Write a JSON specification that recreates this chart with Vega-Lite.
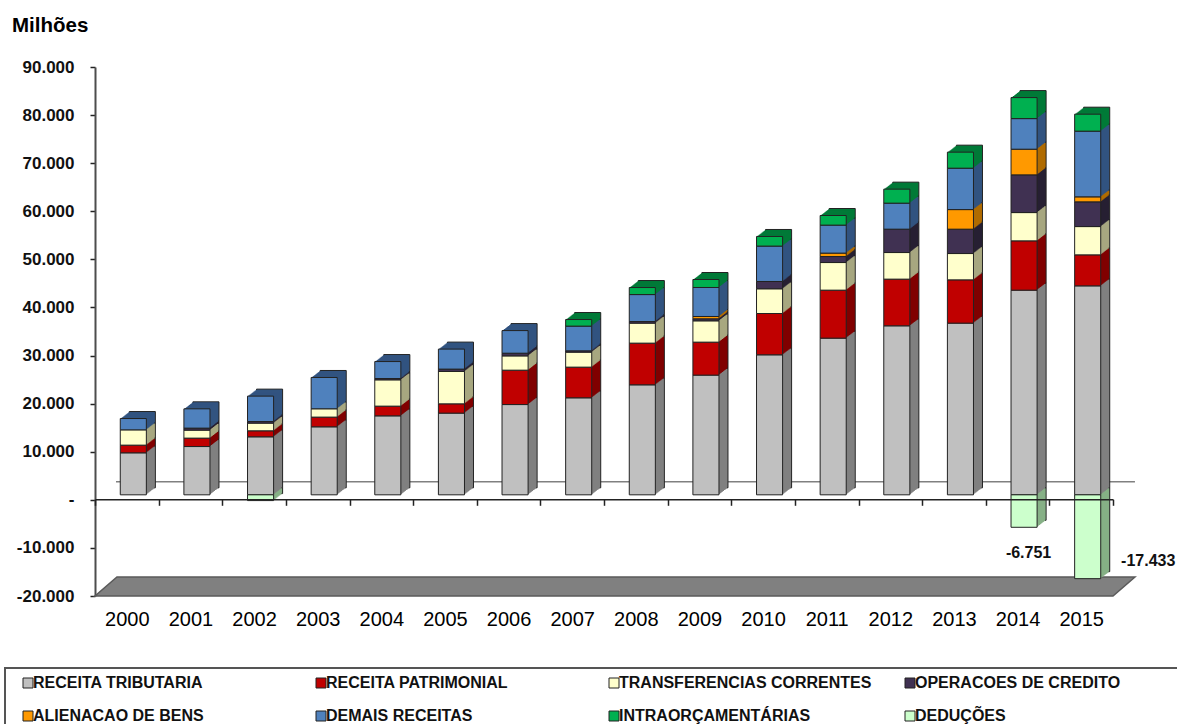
{"$schema":"https://vega.github.io/schema/vega-lite/v6.json","width":1018,"height":529,"autosize":{"type":"none"},"padding":{"left":95,"top":67,"right":64,"bottom":128},"background":"white",
"config":{"view":{"stroke":null},"font":"Liberation Sans","legend":{"strokeWidth":2}},
"title":{"text":"Milhões","anchor":"start","frame":"group","dx":-83,"offset":6,"baseline":"alphabetic","font":"Liberation Sans","fontSize":20.5,"fontWeight":"bold","color":"#000"},
"resolve":{"scale":{"x":"independent"}},
"layer":[
{"data":{"values":[{"pos":0,"base":-20000,"topo":-20000},{"pos":0.345,"base":-20000,"topo":-16050},{"pos":16,"base":-20000,"topo":-16050},{"pos":16.345,"base":-16050,"topo":-16050}]},
"mark":{"type":"area","color":"#808080","stroke":"#5a5a5a","strokeWidth":1.5},
"encoding":{"x":{"field":"pos","type":"quantitative","scale":{"domain":[0,16],"nice":false,"zero":false},"axis":null},
"y":{"field":"base","type":"quantitative","stack":null,"scale":{"domain":[-20000,90000],"nice":false,"zero":false}},
"y2":{"field":"topo"}}},
{"data":{"values":[{"pos":0.33,"base":3740},{"pos":16.345,"base":3740}]},
"mark":{"type":"line","color":"#808080","strokeWidth":1.5},
"encoding":{"x":{"field":"pos","type":"quantitative","scale":{"domain":[0,16],"nice":false,"zero":false},"axis":null},"y":{"field":"base","type":"quantitative"}}},
{"data":{"values":[
{"ano":"2000","serie":"RECEITA TRIBUTARIA","valor":8730,"ordem":1},{"ano":"2000","serie":"RECEITA PATRIMONIAL","valor":1600,"ordem":2},{"ano":"2000","serie":"TRANSFERENCIAS CORRENTES","valor":3180,"ordem":3},{"ano":"2000","serie":"DEMAIS RECEITAS","valor":2350,"ordem":6},
{"ano":"2001","serie":"RECEITA TRIBUTARIA","valor":10040,"ordem":1},{"ano":"2001","serie":"RECEITA PATRIMONIAL","valor":1750,"ordem":2},{"ano":"2001","serie":"TRANSFERENCIAS CORRENTES","valor":1660,"ordem":3},{"ano":"2001","serie":"OPERACOES DE CREDITO","valor":420,"ordem":4},{"ano":"2001","serie":"DEMAIS RECEITAS","valor":4010,"ordem":6},
{"ano":"2002","serie":"RECEITA TRIBUTARIA","valor":12060,"ordem":1},{"ano":"2002","serie":"RECEITA PATRIMONIAL","valor":1250,"ordem":2},{"ano":"2002","serie":"TRANSFERENCIAS CORRENTES","valor":1600,"ordem":3},{"ano":"2002","serie":"OPERACOES DE CREDITO","valor":330,"ordem":4},{"ano":"2002","serie":"DEMAIS RECEITAS","valor":5280,"ordem":6},{"ano":"2002","serie":"DEDUÇÕES","valor":-1200,"ordem":8},
{"ano":"2003","serie":"RECEITA TRIBUTARIA","valor":14140,"ordem":1},{"ano":"2003","serie":"RECEITA PATRIMONIAL","valor":2020,"ordem":2},{"ano":"2003","serie":"TRANSFERENCIAS CORRENTES","valor":1730,"ordem":3},{"ano":"2003","serie":"DEMAIS RECEITAS","valor":6510,"ordem":6},
{"ano":"2004","serie":"RECEITA TRIBUTARIA","valor":16420,"ordem":1},{"ano":"2004","serie":"RECEITA PATRIMONIAL","valor":2020,"ordem":2},{"ano":"2004","serie":"TRANSFERENCIAS CORRENTES","valor":5470,"ordem":3},{"ano":"2004","serie":"OPERACOES DE CREDITO","valor":270,"ordem":4},{"ano":"2004","serie":"DEMAIS RECEITAS","valor":3530,"ordem":6},
{"ano":"2005","serie":"RECEITA TRIBUTARIA","valor":16990,"ordem":1},{"ano":"2005","serie":"RECEITA PATRIMONIAL","valor":1930,"ordem":2},{"ano":"2005","serie":"TRANSFERENCIAS CORRENTES","valor":6720,"ordem":3},{"ano":"2005","serie":"OPERACOES DE CREDITO","valor":500,"ordem":4},{"ano":"2005","serie":"DEMAIS RECEITAS","valor":4160,"ordem":6},
{"ano":"2006","serie":"RECEITA TRIBUTARIA","valor":18770,"ordem":1},{"ano":"2006","serie":"RECEITA PATRIMONIAL","valor":7150,"ordem":2},{"ano":"2006","serie":"TRANSFERENCIAS CORRENTES","valor":2970,"ordem":3},{"ano":"2006","serie":"OPERACOES DE CREDITO","valor":560,"ordem":4},{"ano":"2006","serie":"DEMAIS RECEITAS","valor":4700,"ordem":6},
{"ano":"2007","serie":"RECEITA TRIBUTARIA","valor":20170,"ordem":1},{"ano":"2007","serie":"RECEITA PATRIMONIAL","valor":6380,"ordem":2},{"ano":"2007","serie":"TRANSFERENCIAS CORRENTES","valor":3120,"ordem":3},{"ano":"2007","serie":"OPERACOES DE CREDITO","valor":270,"ordem":4},{"ano":"2007","serie":"DEMAIS RECEITAS","valor":5140,"ordem":6},{"ano":"2007","serie":"INTRAORÇAMENTÁRIAS","valor":1370,"ordem":7},
{"ano":"2008","serie":"RECEITA TRIBUTARIA","valor":22870,"ordem":1},{"ano":"2008","serie":"RECEITA PATRIMONIAL","valor":8670,"ordem":2},{"ano":"2008","serie":"TRANSFERENCIAS CORRENTES","valor":4160,"ordem":3},{"ano":"2008","serie":"OPERACOES DE CREDITO","valor":330,"ordem":4},{"ano":"2008","serie":"DEMAIS RECEITAS","valor":5610,"ordem":6},{"ano":"2008","serie":"INTRAORÇAMENTÁRIAS","valor":1460,"ordem":7},
{"ano":"2009","serie":"RECEITA TRIBUTARIA","valor":24890,"ordem":1},{"ano":"2009","serie":"RECEITA PATRIMONIAL","valor":6860,"ordem":2},{"ano":"2009","serie":"TRANSFERENCIAS CORRENTES","valor":4430,"ordem":3},{"ano":"2009","serie":"OPERACOES DE CREDITO","valor":420,"ordem":4},{"ano":"2009","serie":"ALIENACAO DE BENS","valor":480,"ordem":5},{"ano":"2009","serie":"DEMAIS RECEITAS","valor":6030,"ordem":6},{"ano":"2009","serie":"INTRAORÇAMENTÁRIAS","valor":1660,"ordem":7},
{"ano":"2010","serie":"RECEITA TRIBUTARIA","valor":29110,"ordem":1},{"ano":"2010","serie":"RECEITA PATRIMONIAL","valor":8590,"ordem":2},{"ano":"2010","serie":"TRANSFERENCIAS CORRENTES","valor":5140,"ordem":3},{"ano":"2010","serie":"OPERACOES DE CREDITO","valor":1520,"ordem":4},{"ano":"2010","serie":"DEMAIS RECEITAS","valor":7360,"ordem":6},{"ano":"2010","serie":"INTRAORÇAMENTÁRIAS","valor":2000,"ordem":7},
{"ano":"2011","serie":"RECEITA TRIBUTARIA","valor":32580,"ordem":1},{"ano":"2011","serie":"RECEITA PATRIMONIAL","valor":9980,"ordem":2},{"ano":"2011","serie":"TRANSFERENCIAS CORRENTES","valor":5740,"ordem":3},{"ano":"2011","serie":"OPERACOES DE CREDITO","valor":1250,"ordem":4},{"ano":"2011","serie":"ALIENACAO DE BENS","valor":710,"ordem":5},{"ano":"2011","serie":"DEMAIS RECEITAS","valor":5820,"ordem":6},{"ano":"2011","serie":"INTRAORÇAMENTÁRIAS","valor":2000,"ordem":7},
{"ano":"2012","serie":"RECEITA TRIBUTARIA","valor":35140,"ordem":1},{"ano":"2012","serie":"RECEITA PATRIMONIAL","valor":9710,"ordem":2},{"ano":"2012","serie":"TRANSFERENCIAS CORRENTES","valor":5530,"ordem":3},{"ano":"2012","serie":"OPERACOES DE CREDITO","valor":4860,"ordem":4},{"ano":"2012","serie":"DEMAIS RECEITAS","valor":5410,"ordem":6},{"ano":"2012","serie":"INTRAORÇAMENTÁRIAS","valor":2910,"ordem":7},
{"ano":"2013","serie":"RECEITA TRIBUTARIA","valor":35700,"ordem":1},{"ano":"2013","serie":"RECEITA PATRIMONIAL","valor":9000,"ordem":2},{"ano":"2013","serie":"TRANSFERENCIAS CORRENTES","valor":5470,"ordem":3},{"ano":"2013","serie":"OPERACOES DE CREDITO","valor":5070,"ordem":4},{"ano":"2013","serie":"ALIENACAO DE BENS","valor":4070,"ordem":5},{"ano":"2013","serie":"DEMAIS RECEITAS","valor":8610,"ordem":6},{"ano":"2013","serie":"INTRAORÇAMENTÁRIAS","valor":3330,"ordem":7},
{"ano":"2014","serie":"RECEITA TRIBUTARIA","valor":42560,"ordem":1},{"ano":"2014","serie":"RECEITA PATRIMONIAL","valor":10250,"ordem":2},{"ano":"2014","serie":"TRANSFERENCIAS CORRENTES","valor":5880,"ordem":3},{"ano":"2014","serie":"OPERACOES DE CREDITO","valor":7840,"ordem":4},{"ano":"2014","serie":"ALIENACAO DE BENS","valor":5340,"ordem":5},{"ano":"2014","serie":"DEMAIS RECEITAS","valor":6360,"ordem":6},{"ano":"2014","serie":"INTRAORÇAMENTÁRIAS","valor":4370,"ordem":7},{"ano":"2014","serie":"DEDUÇÕES","valor":-6751,"ordem":8},
{"ano":"2015","serie":"RECEITA TRIBUTARIA","valor":43450,"ordem":1},{"ano":"2015","serie":"RECEITA PATRIMONIAL","valor":6450,"ordem":2},{"ano":"2015","serie":"TRANSFERENCIAS CORRENTES","valor":5880,"ordem":3},{"ano":"2015","serie":"OPERACOES DE CREDITO","valor":5140,"ordem":4},{"ano":"2015","serie":"ALIENACAO DE BENS","valor":1040,"ordem":5},{"ano":"2015","serie":"DEMAIS RECEITAS","valor":13660,"ordem":6},{"ano":"2015","serie":"INTRAORÇAMENTÁRIAS","valor":3530,"ordem":7},{"ano":"2015","serie":"DEDUÇÕES","valor":-17433,"ordem":8}
]},
"encoding":{"x":{"field":"ano","type":"nominal","scale":{"paddingInner":0,"paddingOuter":0},"axis":{"title":null,"offset":-96.7,"tickBand":"extent","domainColor":"#222","domainWidth":1.5,"tickColor":"#222","tickSize":6,"tickWidth":1.5,"labelPadding":104,"labelAngle":0,"labelFont":"Liberation Sans","labelFontSize":20,"labelColor":"#000","zindex":1}},
"y":{"field":"valor","type":"quantitative","stack":"zero","axis":{"title":null,"values":[-20000,-10000,0,10000,20000,30000,40000,50000,60000,70000,80000,90000],"grid":false,"domainColor":"#4d4d4d","domainWidth":2,"tickColor":"#222","tickSize":5,"tickWidth":1.5,"labelPadding":16,"labelFont":"Liberation Sans","labelFontSize":17,"labelFontWeight":"bold","labelColor":"#111","labelExpr":"datum.value==0?'-\u00a0\u00a0':replace(replace(format(datum.value,','),',','.'),'\u2212','-')"}},
"order":{"field":"ordem"}},
"resolve":{"scale":{"color":"independent"}},
"layer":[
{"encoding":{"color":{"field":"serie","type":"nominal","legend":null,"scale":{"domain":["RECEITA TRIBUTARIA","RECEITA PATRIMONIAL","TRANSFERENCIAS CORRENTES","OPERACOES DE CREDITO","ALIENACAO DE BENS","DEMAIS RECEITAS","INTRAORÇAMENTÁRIAS","DEDUÇÕES"],"range":["#808080","#800000","#A8A880","#272033","#B06B00","#325480","#007A38","#86B086"]}}},
"layer":[
{"mark":{"type":"bar","width":{"band":0.41},"stroke":"#222","strokeWidth":1,"xOffset":15.5,"x2Offset":15.5,"yOffset":-12,"y2Offset":-12}},
{"mark":{"type":"bar","width":{"band":0.41},"xOffset":14.5,"x2Offset":14.5,"yOffset":-11.2,"y2Offset":-11.2}},
{"mark":{"type":"bar","width":{"band":0.41},"xOffset":13.5,"x2Offset":13.5,"yOffset":-10.4,"y2Offset":-10.4}},
{"mark":{"type":"bar","width":{"band":0.41},"xOffset":12.5,"x2Offset":12.5,"yOffset":-9.7,"y2Offset":-9.7}},
{"mark":{"type":"bar","width":{"band":0.41},"xOffset":11.5,"x2Offset":11.5,"yOffset":-8.9,"y2Offset":-8.9}},
{"mark":{"type":"bar","width":{"band":0.41},"xOffset":10.5,"x2Offset":10.5,"yOffset":-8.1,"y2Offset":-8.1}},
{"mark":{"type":"bar","width":{"band":0.41},"xOffset":9.5,"x2Offset":9.5,"yOffset":-7.3,"y2Offset":-7.3}},
{"mark":{"type":"bar","width":{"band":0.41},"xOffset":8.5,"x2Offset":8.5,"yOffset":-6.6,"y2Offset":-6.6}},
{"mark":{"type":"bar","width":{"band":0.41},"xOffset":7.5,"x2Offset":7.5,"yOffset":-5.8,"y2Offset":-5.8}}
]},
{"mark":{"type":"bar","width":{"band":0.41},"stroke":"#222","strokeWidth":1,"xOffset":6.5,"x2Offset":6.5,"yOffset":-5,"y2Offset":-5},
"encoding":{"color":{"field":"serie","type":"nominal","scale":{"domain":["RECEITA TRIBUTARIA","RECEITA PATRIMONIAL","TRANSFERENCIAS CORRENTES","OPERACOES DE CREDITO","ALIENACAO DE BENS","DEMAIS RECEITAS","INTRAORÇAMENTÁRIAS","DEDUÇÕES"],"range":["#C0C0C0","#C00000","#FFFFCC","#403152","#FF9900","#4F81BD","#00B050","#CCFFCC"]},
"legend":{"title":null,"orient":"none","legendX":-90,"legendY":601,"direction":"horizontal","columns":4,"symbolType":"square","symbolSize":100,"symbolOffset":8,"symbolStrokeColor":"#222","symbolStrokeWidth":1,"labelFont":"Liberation Sans","labelFontSize":16,"labelFontWeight":"bold","labelColor":"#111","labelLimit":1000,"labelOffset":-3,"columnPadding":1,"rowPadding":17,"padding":7,"strokeColor":"#555",
"labelExpr":"datum.label=='RECEITA TRIBUTARIA'?pad(pad(datum.label,19,'\u00a0'),27,'\u2800'):datum.label=='RECEITA PATRIMONIAL'?pad(pad(datum.label,20,'\u00a0'),27,'\u2800'):datum.label=='TRANSFERENCIAS CORRENTES'?pad(pad(datum.label,26,'\u00a0'),27,'\u2800'):datum.label=='OPERACOES DE CREDITO'?pad(pad(datum.label,21,'\u00a0'),25,'\u2800'):datum.label"}}}},
{"data":{"values":[{"ano":"2014","valor":-6751,"rotulo":"-6.751"}]},"mark":{"type":"text","font":"Liberation Sans","fontSize":16,"fontWeight":"bold","color":"#111","dx":11,"dy":21},"encoding":{"text":{"field":"rotulo"},"order":{"value":null},"y":{"field":"valor","type":"quantitative","stack":null}}},
{"data":{"values":[{"ano":"2015","valor":-17433,"rotulo":"-17.433"}]},"mark":{"type":"text","font":"Liberation Sans","fontSize":16,"fontWeight":"bold","color":"#111","dx":67,"dy":-23},"encoding":{"text":{"field":"rotulo"},"order":{"value":null},"y":{"field":"valor","type":"quantitative","stack":null}}}
]}
]}
